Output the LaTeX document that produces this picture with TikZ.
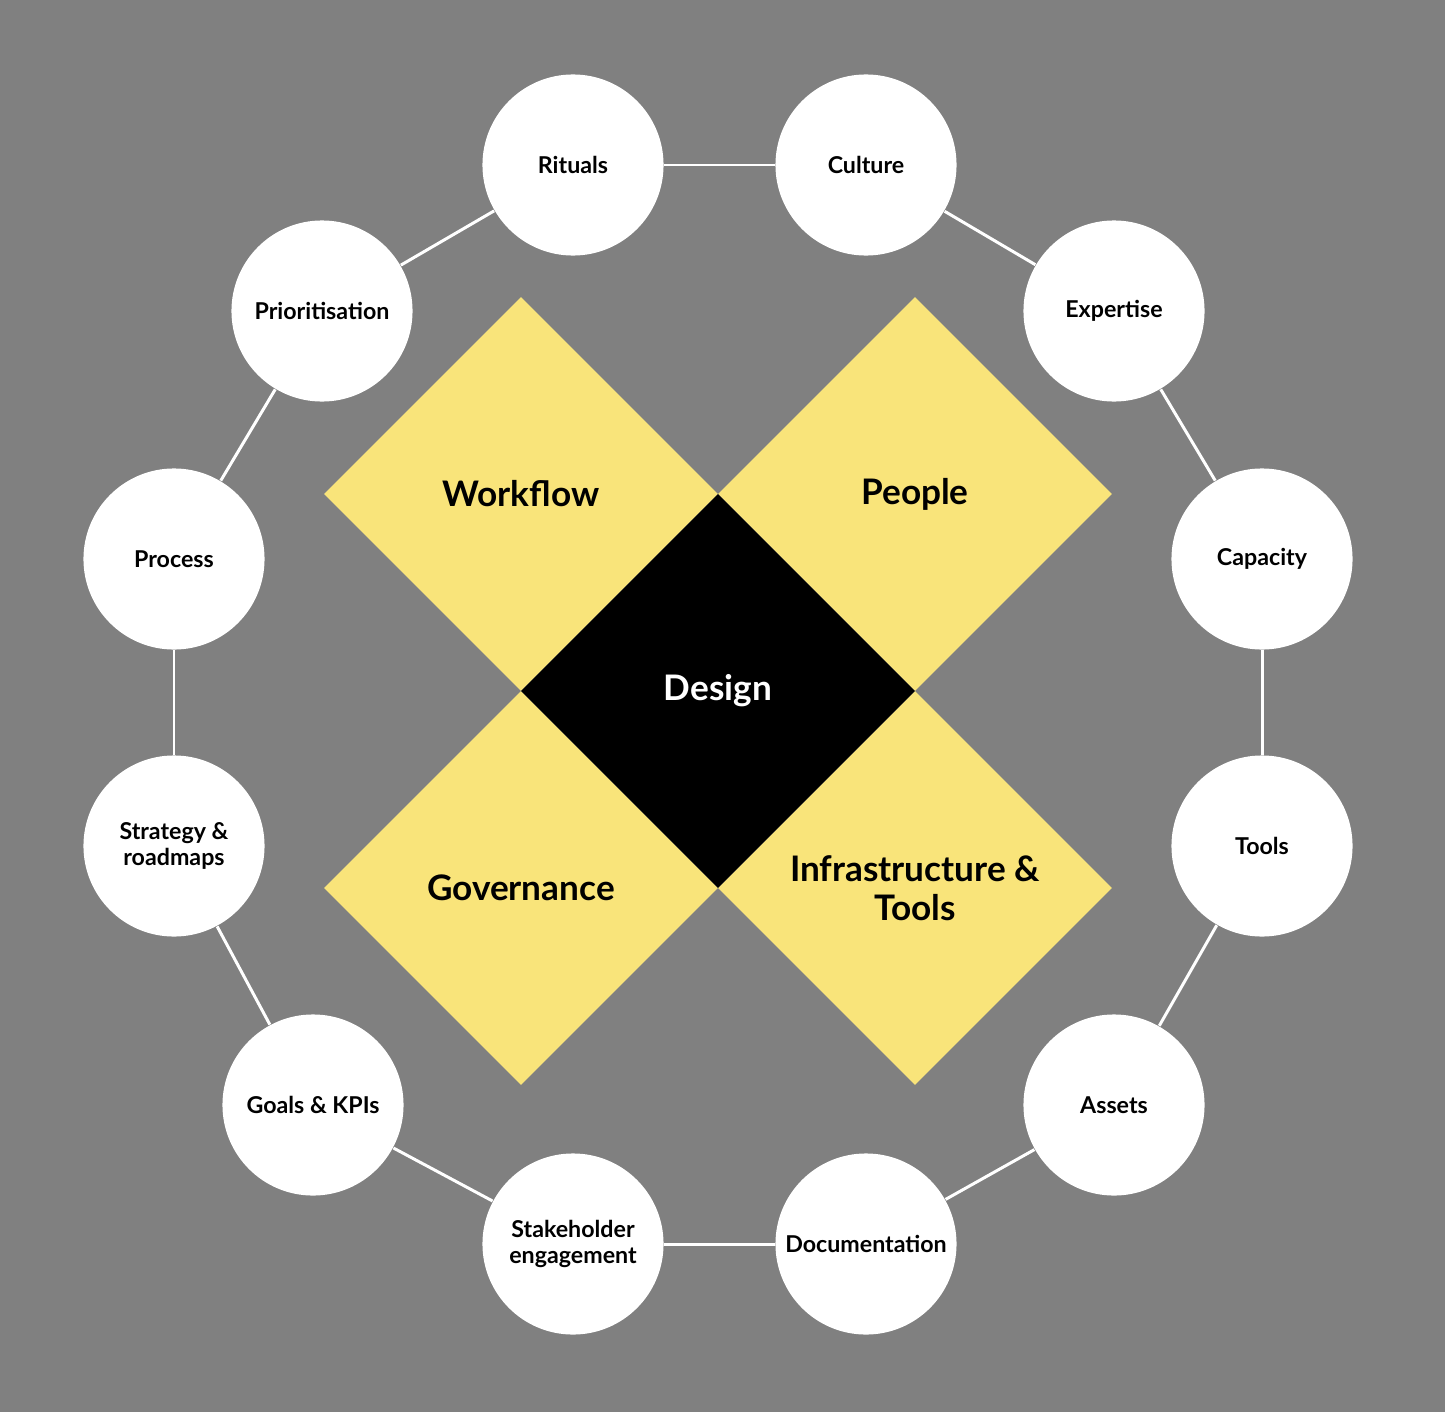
\documentclass[tikz,border=0pt]{standalone}
\usepackage{fontspec}
\setmainfont{Lato}
\usetikzlibrary{shapes.geometric}
\definecolor{bggrey}{HTML}{808080}
\definecolor{pillar}{HTML}{F9E47A}
\tikzset{
  topic/.style={circle, fill=white, minimum size=1.81cm, inner sep=0pt, align=center,
    font=\fontsize{6.6}{7.4}\selectfont\bfseries},
  pillarbox/.style={diamond, fill=pillar, minimum width=3.94cm, minimum height=3.94cm,
    inner sep=0pt, align=center, font=\fontsize{10}{11.1}\selectfont\bfseries},
  link/.style={white, line width=0.85pt},
}
\begin{document}
\begin{tikzpicture}[x=0.01cm, y=-0.01cm]
    \fill [bggrey] (0,0) rectangle (1445,1412);
    % pillars
    \node [pillarbox] (workflow) at (521,494) {Workflow};
    \node [pillarbox] (people) at (915,494) {People};
    \node [pillarbox] (governance) at (521,888) {Governance};
    \node [pillarbox] (infra) at (915,888) {Infrastructure \&\\Tools};
    \node [pillarbox, fill=black, text=white] (design) at (718,691) {Design};
    % ring of topics
    \node [topic] (rituals) at (573,165) {Rituals};
    \node [topic] (culture) at (866,165) {Culture};
    \node [topic] (expertise) at (1114,311) {Expertise};
    \node [topic] (capacity) at (1262,559) {Capacity};
    \node [topic] (tools) at (1262,846) {Tools};
    \node [topic] (assets) at (1114,1105) {Assets};
    \node [topic] (docs) at (866,1244) {Documentation};
    \node [topic] (stakeholder) at (573,1244) {Stakeholder\\engagement};
    \node [topic] (goals) at (313,1105) {Goals \& KPIs};
    \node [topic] (strategy) at (174,846) {Strategy \&\\roadmaps};
    \node [topic] (process) at (174,559) {Process};
    \node [topic] (prio) at (322,311) {Prioritisation};
    % links
    \draw [link] (rituals) -- (culture);
    \draw [link] (culture) -- (expertise);
    \draw [link] (expertise) -- (capacity);
    \draw [link] (capacity) -- (tools);
    \draw [link] (tools) -- (assets);
    \draw [link] (assets) -- (docs);
    \draw [link] (docs) -- (stakeholder);
    \draw [link] (stakeholder) -- (goals);
    \draw [link] (goals) -- (strategy);
    \draw [link] (strategy) -- (process);
    \draw [link] (process) -- (prio);
    \draw [link] (prio) -- (rituals);
\end{tikzpicture}
\end{document}
